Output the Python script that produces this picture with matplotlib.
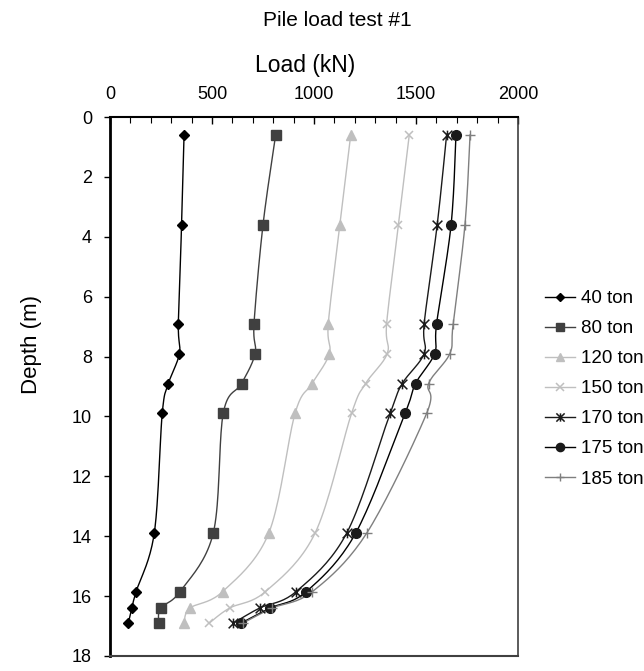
import numpy as np
import matplotlib
matplotlib.use("Agg")
import matplotlib.pyplot as plt
from matplotlib.path import Path
from matplotlib.ticker import MultipleLocator

plt.rcParams['font.family'] = ['Liberation Sans', 'DejaVu Sans']

# ---- data ----
depths = [0.6, 3.6, 6.9, 7.9, 8.9, 9.9, 13.9, 15.85, 16.4, 16.9]
series_names = ["40 ton", "80 ton", "120 ton", "150 ton", "170 ton", "175 ton", "185 ton"]
load_40 = [363, 351, 335, 340, 286, 256, 217, 128, 107, 90]
load_80 = [812, 750, 706, 711, 645, 555, 506, 343, 248, 239]
load_120 = [1180, 1127, 1070, 1075, 991, 907, 778, 552, 392, 363]
load_150 = [1467, 1414, 1356, 1359, 1253, 1184, 1005, 762, 586, 487]
load_170 = [1650, 1604, 1540, 1540, 1433, 1373, 1160, 912, 733, 605]
load_175 = [1696, 1672, 1601, 1591, 1498, 1446, 1204, 962, 785, 643]
load_185 = [1765, 1740, 1682, 1666, 1562, 1552, 1258, 992, 795, 652]
x_ticks = [0, 500, 1000, 1500, 2000]
y_ticks = [0, 2, 4, 6, 8, 10, 12, 14, 16, 18]

all_loads = [load_40, load_80, load_120, load_150, load_170, load_175, load_185]

# star marker (x with a vertical bar), like Excel's star
star = Path([(-0.5, -0.5), (0.5, 0.5), (-0.5, 0.5), (0.5, -0.5), (0, -0.5), (0, 0.5)],
            [Path.MOVETO, Path.LINETO, Path.MOVETO, Path.LINETO, Path.MOVETO, Path.LINETO])

styles = [
    dict(color='#000000', marker='D', ms=5.2, mfc='#000000', mec='#000000'),
    dict(color='#404040', marker='s', ms=6.5, mfc='#404040', mec='#404040'),
    dict(color='#bfbfbf', marker='^', ms=7.0, mfc='#bfbfbf', mec='#bfbfbf'),
    dict(color='#bfbfbf', marker='x', ms=6.0, mfc='none', mec='#bfbfbf', mew=1.1),
    dict(color='#1a1a1a', marker=star, ms=7.0, mfc='none', mec='#1a1a1a', mew=1.1),
    dict(color='#000000', marker='o', ms=7.0, mfc='#1a1a1a', mec='#1a1a1a'),
    dict(color='#7f7f7f', marker='+', ms=7.5, mfc='none', mec='#7f7f7f', mew=1.0),
]

fig = plt.figure(figsize=(6.44, 6.71), dpi=100)
ax = fig.add_axes([110 / 644, 15 / 671, 408 / 644, 539 / 671])
ax.set_xlim(0, 2000)
ax.set_ylim(18, 0)


def catmull_rom(px, py, n=20):
    """Smooth curve through display-space points (Excel-like smoothing)."""
    P = np.column_stack([px, py])
    P = np.vstack([P[0], P, P[-1]])
    out = []
    for i in range(1, len(P) - 2):
        p0, p1, p2, p3 = P[i - 1], P[i], P[i + 1], P[i + 2]
        t = np.linspace(0, 1, n, endpoint=False)[:, None]
        c = 0.5 * ((2 * p1) + (-p0 + p2) * t + (2 * p0 - 5 * p1 + 4 * p2 - p3) * t ** 2
                   + (-p0 + 3 * p1 - 3 * p2 + p3) * t ** 3)
        out.append(c)
    out.append(P[-2][None, :])
    return np.vstack(out)


for name, loads, st in zip(series_names, all_loads, styles):
    disp = ax.transData.transform(np.column_stack([loads, depths]))
    sm = catmull_rom(disp[:, 0], disp[:, 1])
    data_sm = ax.transData.inverted().transform(sm)
    ax.plot(data_sm[:, 0], data_sm[:, 1], color=st['color'], lw=1.0, zorder=2)
    ax.plot(loads, depths, linestyle='none', marker=st['marker'], ms=st['ms'],
            mfc=st['mfc'], mec=st['mec'], mew=st.get('mew', 1.0), zorder=3)
    # legend proxy
    ax.plot([], [], color=st['color'], lw=1.0, marker=st['marker'], ms=st['ms'] * 0.85,
            mfc=st['mfc'], mec=st['mec'], mew=st.get('mew', 1.0), label=name)

ax.xaxis.tick_top()
ax.xaxis.set_label_position('top')
ax.set_xticks(x_ticks)
ax.xaxis.set_minor_locator(MultipleLocator(100))
ax.set_yticks(y_ticks)
ax.tick_params(axis='x', which='major', direction='in', length=5, width=1.0,
               labelsize=13, pad=10, top=True, bottom=False)
ax.tick_params(axis='x', which='minor', direction='in', length=4, width=0.8,
               top=True, bottom=False)
ax.tick_params(axis='y', which='major', direction='out', length=4, width=1.0,
               labelsize=13, pad=9)

ax.set_xlabel('Load (kN)', fontsize=16.5)
ax.xaxis.set_label_coords(0.478, 1.083)
ax.set_ylabel('Depth (m)', fontsize=16)
ax.yaxis.set_label_coords(-0.166, 0.577)
fig.text(337 / 644, 1 - 21 / 671, 'Pile load test #1', ha='center', va='center', fontsize=15)

for side, sp in ax.spines.items():
    sp.set_color('#000000')
ax.spines['left'].set_linewidth(2.0)
ax.spines['top'].set_linewidth(1.5)
ax.spines['bottom'].set_linewidth(1.5)
ax.spines['right'].set_linewidth(1.2)
ax.spines['right'].set_color('#404040')
ax.spines['bottom'].set_color('#404040')

leg = fig.legend(loc='upper left', bbox_to_anchor=(545 / 644, 1 - 290 / 671),
                 frameon=False, fontsize=13.5, handlelength=1.6, handletextpad=0.3,
                 labelspacing=0.69, borderpad=0, borderaxespad=0)

fig.savefig('out.png', dpi=100)
